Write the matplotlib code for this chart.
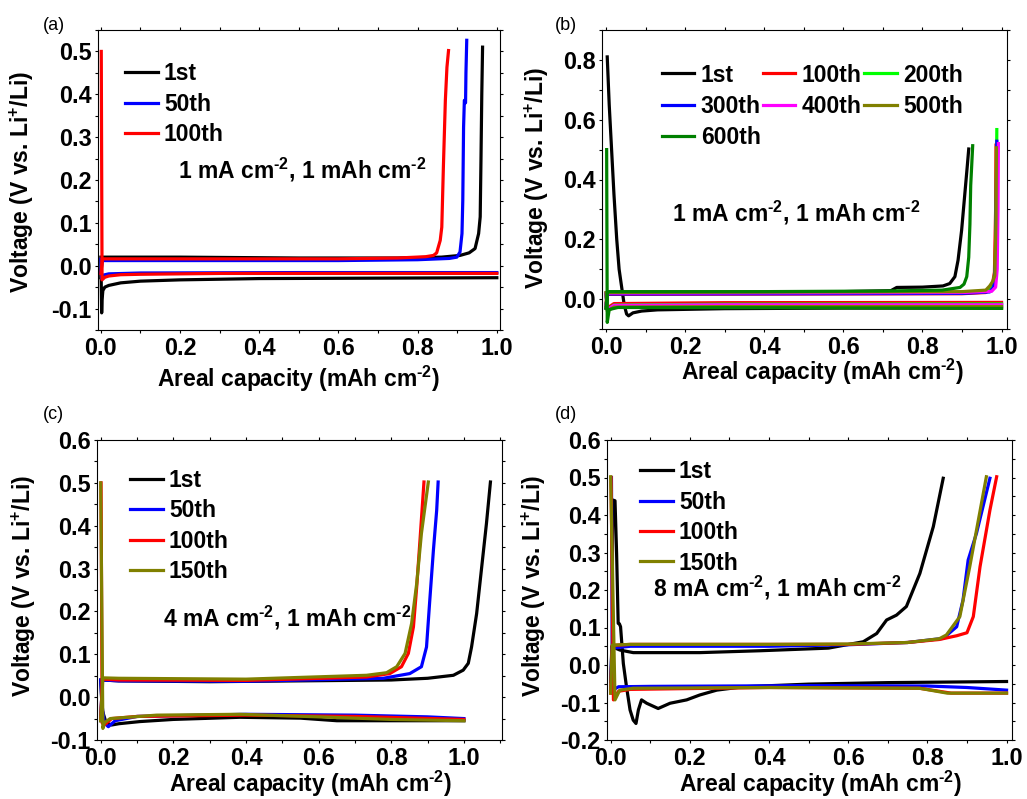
import matplotlib
matplotlib.use("Agg")
import matplotlib.pyplot as plt
from matplotlib.ticker import MultipleLocator

plt.rcParams['font.family'] = ['Liberation Sans', 'DejaVu Sans']
plt.rcParams['font.weight'] = 'bold'
plt.rcParams['mathtext.fontset'] = 'custom'
plt.rcParams['mathtext.rm'] = 'Liberation Sans:bold'
plt.rcParams['mathtext.bf'] = 'Liberation Sans:bold'
plt.rcParams['mathtext.it'] = 'Liberation Sans:bold:italic'
plt.rcParams['mathtext.default'] = 'regular'
plt.rcParams['axes.unicode_minus'] = False

W, H = 1027, 799

# ---------------- data: panel (a) 1 mA cm-2 ----------------
a_labels = ['1st', '50th', '100th']
a_colors = ['#000000', '#0000ff', '#ff0000']
a1_plate_cap = [0.0, 0.002, 0.003, 0.005, 0.01, 0.02, 0.05, 0.1, 0.2, 0.4, 0.7, 1.0]
a1_plate_v = [0.02, -0.11, -0.08, -0.058, -0.05, -0.046, -0.04, -0.036, -0.033, -0.03, -0.029, -0.028]
a1_strip_cap = [0.0, 0.003, 0.2, 0.5, 0.75, 0.86, 0.907, 0.93, 0.945, 0.954, 0.958, 0.96, 0.962, 0.964]
a1_strip_v = [-0.028, 0.02, 0.02, 0.018, 0.018, 0.02, 0.024, 0.03, 0.04, 0.075, 0.114, 0.25, 0.4, 0.51]
a50_plate_cap = [0.0, 0.002, 0.006, 0.02, 0.1, 0.5, 1.0]
a50_plate_v = [0.015, -0.03, -0.022, -0.019, -0.017, -0.016, -0.016]
a50_strip_cap = [0.0, 0.003, 0.3, 0.6, 0.8, 0.88, 0.899, 0.907, 0.912, 0.914, 0.916, 0.918, 0.921, 0.922, 0.924]
a50_strip_v = [-0.016, 0.012, 0.012, 0.012, 0.014, 0.017, 0.02, 0.032, 0.075, 0.152, 0.323, 0.386, 0.38, 0.45, 0.526]
a100_plate_cap = [0.001, 0.003, 0.01, 0.02, 0.05, 0.1, 0.3, 0.6, 1.0]
a100_plate_v = [0.5, -0.033, -0.027, -0.024, -0.021, -0.02, -0.018, -0.018, -0.018]
a100_strip_cap = [0.0, 0.004, 0.3, 0.6, 0.75, 0.82, 0.84, 0.848, 0.857, 0.861, 0.865, 0.87, 0.874, 0.878]
a100_strip_v = [-0.018, 0.016, 0.016, 0.016, 0.018, 0.021, 0.024, 0.03, 0.059, 0.09, 0.23, 0.386, 0.463, 0.502]

# ---------------- data: panel (b) 1 mA cm-2, long cycling ----------------
b_labels = ['1st', '100th', '200th', '300th', '400th', '500th', '600th']
b_colors = ['#000000', '#ff0000', '#00ff00', '#0000ff', '#ff00ff', '#808000', '#008000']
b1_plate_cap = [0.003, 0.008, 0.014, 0.02, 0.027, 0.033, 0.04, 0.046, 0.052, 0.057, 0.068, 0.09, 0.13, 0.3, 0.6, 1.0]
b1_plate_v = [0.81, 0.65, 0.5, 0.35, 0.2, 0.1, 0.035, -0.02, -0.05, -0.056, -0.046, -0.04, -0.036, -0.032, -0.03, -0.03]
b1_strip_cap = [0.0, 0.004, 0.3, 0.6, 0.72, 0.735, 0.8, 0.852, 0.869, 0.882, 0.89, 0.899, 0.907, 0.913, 0.917]
b1_strip_v = [-0.03, 0.02, 0.022, 0.025, 0.028, 0.039, 0.04, 0.044, 0.052, 0.075, 0.13, 0.23, 0.35, 0.44, 0.502]
b100_plate_cap = [0.0, 0.003, 0.02, 0.3, 1.0]
b100_plate_v = [0.017, -0.03, -0.015, -0.012, -0.011]
b100_strip_cap = [0.0, 0.004, 0.5, 0.9, 0.96, 0.975, 0.982, 0.985, 0.986]
b100_strip_v = [-0.011, 0.016, 0.017, 0.018, 0.022, 0.035, 0.09, 0.3, 0.515]
b200_plate_cap = [0.0, 0.003, 0.02, 0.3, 1.0]
b200_plate_v = [0.02, -0.035, -0.02, -0.017, -0.016]
b200_strip_cap = [0.0, 0.004, 0.5, 0.9, 0.965, 0.978, 0.984, 0.987, 0.988]
b200_strip_v = [-0.016, 0.02, 0.02, 0.021, 0.026, 0.04, 0.1, 0.35, 0.567]
b300_plate_cap = [0.0, 0.003, 0.02, 0.3, 1.0]
b300_plate_v = [0.018, -0.035, -0.024, -0.022, -0.021]
b300_strip_cap = [0.0, 0.004, 0.5, 0.9, 0.97, 0.98, 0.985, 0.987, 0.988]
b300_strip_v = [-0.021, 0.017, 0.018, 0.019, 0.024, 0.04, 0.12, 0.35, 0.528]
b400_plate_cap = [0.0, 0.003, 0.02, 0.3, 1.0]
b400_plate_v = [0.02, -0.035, -0.021, -0.019, -0.019]
b400_strip_cap = [0.0, 0.004, 0.5, 0.9, 0.975, 0.985, 0.989, 0.991, 0.992]
b400_strip_v = [-0.019, 0.02, 0.021, 0.022, 0.026, 0.04, 0.1, 0.3, 0.52]
b500_plate_cap = [0.0, 0.003, 0.02, 0.3, 1.0]
b500_plate_v = [0.022, -0.04, -0.027, -0.025, -0.025]
b500_strip_cap = [0.0, 0.004, 0.5, 0.9, 0.96, 0.97, 0.978, 0.983, 0.986, 0.987]
b500_strip_v = [-0.025, 0.022, 0.024, 0.025, 0.03, 0.044, 0.06, 0.078, 0.267, 0.506]
b600_plate_cap = [0.0015, 0.003, 0.008, 0.03, 0.5, 1.0]
b600_plate_v = [0.5, -0.078, -0.035, -0.028, -0.029, -0.031]
b600_strip_cap = [0.0, 0.004, 0.4, 0.7, 0.85, 0.895, 0.905, 0.912, 0.917, 0.92, 0.922, 0.925, 0.927]
b600_strip_v = [-0.031, 0.025, 0.025, 0.027, 0.03, 0.039, 0.05, 0.075, 0.14, 0.25, 0.38, 0.46, 0.513]

# ---------------- data: panel (c) 4 mA cm-2 ----------------
c_labels = ['1st', '50th', '100th', '150th']
c_colors = ['#000000', '#0000ff', '#ff0000', '#808000']
c1_plate_cap = [0.0, 0.004, 0.015, 0.03, 0.05, 0.108, 0.2, 0.383, 0.55, 0.65, 0.8, 1.0]
c1_plate_v = [0.04, -0.03, -0.06, -0.065, -0.062, -0.057, -0.052, -0.047, -0.049, -0.055, -0.055, -0.055]
c1_strip_cap = [0.0, 0.005, 0.05, 0.3, 0.8, 0.9, 0.971, 0.998, 1.012, 1.021, 1.035, 1.049, 1.062, 1.073]
c1_strip_v = [-0.055, 0.04, 0.038, 0.036, 0.04, 0.044, 0.051, 0.063, 0.079, 0.117, 0.195, 0.304, 0.405, 0.502]
c50_plate_cap = [0.0, 0.004, 0.01, 0.021, 0.04, 0.1, 0.4, 0.7, 0.9, 1.0]
c50_plate_v = [0.04, -0.02, -0.06, -0.069, -0.055, -0.045, -0.04, -0.042, -0.046, -0.05]
c50_strip_cap = [0.0, 0.005, 0.05, 0.4, 0.778, 0.851, 0.883, 0.897, 0.906, 0.916, 0.925, 0.929]
c50_strip_v = [-0.05, 0.04, 0.038, 0.037, 0.044, 0.055, 0.071, 0.117, 0.226, 0.343, 0.436, 0.502]
c100_plate_cap = [0.001, 0.004, 0.01, 0.03, 0.1, 0.4, 0.7, 1.0]
c100_plate_v = [0.5, -0.06, -0.065, -0.05, -0.045, -0.042, -0.045, -0.052]
c100_strip_cap = [0.0, 0.005, 0.05, 0.4, 0.732, 0.796, 0.828, 0.847, 0.861, 0.87, 0.879, 0.89]
c100_strip_v = [-0.052, 0.042, 0.04, 0.039, 0.047, 0.055, 0.071, 0.102, 0.164, 0.257, 0.366, 0.502]
c150_plate_cap = [0.0, 0.006, 0.01, 0.026, 0.154, 0.383, 0.6, 0.8, 1.0]
c150_plate_v = [0.5, -0.073, -0.06, -0.05, -0.042, -0.04, -0.046, -0.052, -0.055]
c150_strip_cap = [0.0, 0.006, 0.05, 0.4, 0.732, 0.787, 0.815, 0.838, 0.856, 0.87, 0.883, 0.902]
c150_strip_v = [-0.055, 0.045, 0.044, 0.042, 0.051, 0.057, 0.071, 0.102, 0.172, 0.265, 0.382, 0.502]

# ---------------- data: panel (d) 8 mA cm-2 ----------------
d_labels = ['1st', '50th', '100th', '150th']
d_colors = ['#000000', '#0000ff', '#ff0000', '#808000']
d1_plate_cap = [0.004, 0.005, 0.011, 0.015, 0.019, 0.022, 0.025, 0.032, 0.04, 0.049, 0.057, 0.064, 0.07,
                0.078, 0.091, 0.12, 0.15, 0.192, 0.225, 0.268, 0.335, 0.5, 0.7, 1.0]
d1_plate_v = [0.04, 0.44, 0.438, 0.298, 0.111, 0.11, 0.102, 0.004, -0.058, -0.12, -0.147, -0.156, -0.12,
              -0.093, -0.102, -0.116, -0.102, -0.093, -0.08, -0.067, -0.058, -0.051, -0.047, -0.044]
d1_strip_cap = [0.0, 0.003, 0.023, 0.057, 0.225, 0.377, 0.55, 0.638, 0.672, 0.697, 0.722, 0.747, 0.781, 0.815, 0.84]
d1_strip_v = [-0.044, 0.049, 0.04, 0.033, 0.033, 0.038, 0.045, 0.062, 0.084, 0.12, 0.133, 0.156, 0.244, 0.369, 0.498]
d50_plate_cap = [0.002, 0.005, 0.02, 0.1, 0.5, 0.8, 0.9, 1.0]
d50_plate_v = [0.5, -0.067, -0.058, -0.057, -0.055, -0.056, -0.06, -0.067]
d50_strip_cap = [0.0, 0.003, 0.05, 0.4, 0.6, 0.75, 0.84, 0.874, 0.89, 0.903, 0.924, 0.958]
d50_strip_v = [-0.067, 0.045, 0.05, 0.05, 0.054, 0.06, 0.071, 0.102, 0.173, 0.28, 0.351, 0.498]
d100_plate_cap = [0.001, 0.007, 0.02, 0.05, 0.4, 0.78, 0.86, 1.0]
d100_plate_v = [0.5, -0.093, -0.07, -0.065, -0.06, -0.062, -0.075, -0.075]
d100_strip_cap = [0.0, 0.004, 0.05, 0.4, 0.6, 0.75, 0.83, 0.874, 0.9, 0.916, 0.933, 0.958, 0.975]
d100_strip_v = [-0.075, 0.052, 0.055, 0.055, 0.055, 0.06, 0.068, 0.078, 0.086, 0.129, 0.262, 0.413, 0.502]
d150_plate_cap = [0.0, 0.011, 0.023, 0.057, 0.4, 0.78, 0.85, 1.0]
d150_plate_v = [0.502, -0.093, -0.067, -0.062, -0.06, -0.062, -0.075, -0.075]
d150_strip_cap = [0.0, 0.004, 0.05, 0.4, 0.6, 0.75, 0.83, 0.848, 0.882, 0.907, 0.949]
d150_strip_v = [-0.075, 0.053, 0.055, 0.055, 0.056, 0.06, 0.07, 0.08, 0.129, 0.262, 0.502]

# ---------------- figure ----------------
fig = plt.figure(figsize=(W / 100, H / 100), dpi=100)


def px_rect(l, t, r, b):
    return [l / W, 1 - b / H, (r - l) / W, (b - t) / H]


ax_a = fig.add_axes(px_rect(97.7, 30, 500, 330))
ax_b = fig.add_axes(px_rect(601.7, 30, 1006.7, 329))
ax_c = fig.add_axes(px_rect(96.7, 440, 501.7, 740))
ax_d = fig.add_axes(px_rect(606.7, 440, 1011.7, 740))

LW = 2.3
TICK_FS = 16.8
LAB_FS = 16.5


def draw(ax, series, labels, colors):
    handles = []
    for (pc, pv, sc, sv), lab, col in zip(series, labels, colors):
        h, = ax.plot(pc, pv, color=col, lw=LW, label=lab, solid_joinstyle='round')
        ax.plot(sc, sv, color=col, lw=LW, solid_joinstyle='round')
        handles.append(h)
    return handles


ha = draw(ax_a, [(a1_plate_cap, a1_plate_v, a1_strip_cap, a1_strip_v),
                 (a50_plate_cap, a50_plate_v, a50_strip_cap, a50_strip_v),
                 (a100_plate_cap, a100_plate_v, a100_strip_cap, a100_strip_v)], a_labels, a_colors)
hb = draw(ax_b, [(b1_plate_cap, b1_plate_v, b1_strip_cap, b1_strip_v),
                 (b100_plate_cap, b100_plate_v, b100_strip_cap, b100_strip_v),
                 (b200_plate_cap, b200_plate_v, b200_strip_cap, b200_strip_v),
                 (b300_plate_cap, b300_plate_v, b300_strip_cap, b300_strip_v),
                 (b400_plate_cap, b400_plate_v, b400_strip_cap, b400_strip_v),
                 (b500_plate_cap, b500_plate_v, b500_strip_cap, b500_strip_v),
                 (b600_plate_cap, b600_plate_v, b600_strip_cap, b600_strip_v)], b_labels, b_colors)
hc = draw(ax_c, [(c1_plate_cap, c1_plate_v, c1_strip_cap, c1_strip_v),
                 (c50_plate_cap, c50_plate_v, c50_strip_cap, c50_strip_v),
                 (c100_plate_cap, c100_plate_v, c100_strip_cap, c100_strip_v),
                 (c150_plate_cap, c150_plate_v, c150_strip_cap, c150_strip_v)], c_labels, c_colors)
hd = draw(ax_d, [(d1_plate_cap, d1_plate_v, d1_strip_cap, d1_strip_v),
                 (d50_plate_cap, d50_plate_v, d50_strip_cap, d50_strip_v),
                 (d100_plate_cap, d100_plate_v, d100_strip_cap, d100_strip_v),
                 (d150_plate_cap, d150_plate_v, d150_strip_cap, d150_strip_v)], d_labels, d_colors)

# axis limits and ticks
cfg = [
    (ax_a, (-0.008, 1.008), (-0.15, 0.55), 0.1, 0.05),
    (ax_b, (-0.011, 1.013), (-0.1, 0.9), 0.2, 0.1),
    (ax_c, (-0.011, 1.104), (-0.1, 0.6), 0.1, 0.05),
    (ax_d, (-0.01, 1.013), (-0.2, 0.6), 0.1, 0.05),
]
for ax, xl, yl, ymaj, ymin in cfg:
    ax.set_xlim(*xl)
    ax.set_ylim(*yl)
    ax.xaxis.set_major_locator(MultipleLocator(0.2))
    ax.xaxis.set_minor_locator(MultipleLocator(0.1))
    ax.yaxis.set_major_locator(MultipleLocator(ymaj))
    ax.yaxis.set_minor_locator(MultipleLocator(ymin))
    ax.xaxis.set_major_formatter(plt.FuncFormatter(lambda v, p: f"{v:.1f}"))
    ax.yaxis.set_major_formatter(plt.FuncFormatter(lambda v, p: f"{v:.1f}"))
    ax.tick_params(which='both', direction='out', top=True, right=True, width=0.8)
    ax.tick_params(which='major', length=2.5)
    ax.tick_params(which='minor', length=2.0)
    ax.tick_params(axis='x', which='major', labelsize=TICK_FS, pad=2.5)
    ax.tick_params(axis='y', which='major', labelsize=TICK_FS, pad=2)
    for lab in ax.get_xticklabels() + ax.get_yticklabels():
        lab.set_fontweight('bold')
    for s in ax.spines.values():
        s.set_linewidth(0.8)

xlab = r'Areal capacity (mAh cm$^{\text{-2}}$)'
ylab = r'Voltage (V vs. Li$^{\text{+}}$/Li)'
xlab_pos = {ax_a: (298, 386.7), ax_b: (822, 380), ax_c: (310, 791.7), ax_d: (820, 791.7)}
ylab_pos = {ax_a: (29, 182), ax_b: (544, 178), ax_c: (31, 586), ax_d: (541, 586)}
for ax in (ax_a, ax_b, ax_c, ax_d):
    ax.set_xlabel(xlab, fontsize=LAB_FS, fontweight='bold')
    ax.set_ylabel(ylab, fontsize=LAB_FS, fontweight='bold')
    xx, yy = xlab_pos[ax]
    ax.xaxis.set_label_coords(xx / W, 1 - yy / H, transform=fig.transFigure)
    ax.xaxis.label.set_verticalalignment('baseline')
    xx, yy = ylab_pos[ax]
    ax.yaxis.set_label_coords(xx / W, 1 - yy / H, transform=fig.transFigure)
    ax.yaxis.label.set_verticalalignment('baseline')

# panel letters
for txt, (xx, yy) in zip(['(a)', '(b)', '(c)', '(d)'], [(43, 30), (555, 30), (43, 419), (555, 419)]):
    fig.text(xx / W, 1 - yy / H, txt, fontsize=13, fontweight='normal', ha='left', va='baseline')

# condition annotations
notes = [(r'1 mA cm$^{\text{-2}}$, 1 mAh cm$^{\text{-2}}$', 178, 178.3),
         (r'1 mA cm$^{\text{-2}}$, 1 mAh cm$^{\text{-2}}$', 671.7, 221.7),
         (r'4 mA cm$^{\text{-2}}$, 1 mAh cm$^{\text{-2}}$', 163.3, 626.7),
         (r'8 mA cm$^{\text{-2}}$, 1 mAh cm$^{\text{-2}}$', 653.3, 596.7)]
for txt, xx, yy in notes:
    fig.text(xx / W, 1 - yy / H, txt, fontsize=LAB_FS, fontweight='bold', ha='left', va='baseline')

# legends
leg_kw = dict(loc='upper left', bbox_transform=fig.transFigure, frameon=False, borderpad=0,
              borderaxespad=0, handlelength=1.42, handletextpad=0.28,
              prop={'size': LAB_FS, 'weight': 'bold'})
ax_a.legend(handles=ha, bbox_to_anchor=(125 / W, 1 - 62.5 / H), labelspacing=0.32, **leg_kw)
order = [0, 3, 6, 1, 4, 2, 5]
ax_b.legend(handles=[hb[i] for i in order], ncol=3, columnspacing=0.1, labelspacing=0.36,
            bbox_to_anchor=(661.7 / W, 1 - 63.5 / H), **leg_kw)
ax_c.legend(handles=hc, bbox_to_anchor=(130 / W, 1 - 469 / H), labelspacing=0.32, **leg_kw)
ax_d.legend(handles=hd, bbox_to_anchor=(640 / W, 1 - 460.5 / H), labelspacing=0.32, **leg_kw)

fig.savefig('out.png', dpi=100)
